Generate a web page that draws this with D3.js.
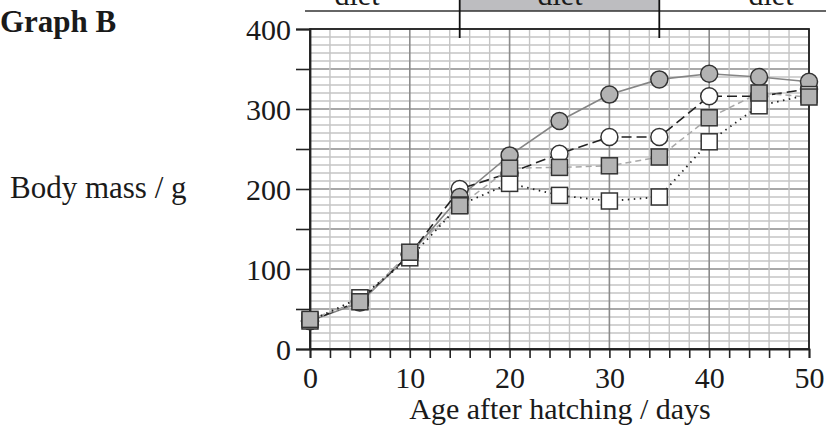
<!DOCTYPE html>
<html>
<head>
<meta charset="utf-8">
<script src="https://cdn.jsdelivr.net/npm/d3@7"></script>
<style>
  body { margin: 0; background: #fff; }
  text { font-family: "Liberation Serif", "Times New Roman", serif; fill: #1a1a1a; }
</style>
</head>
<body>
<div id="chart"></div>
<script>
// Data
var days = [0, 5, 10, 15, 20, 25, 30, 35, 40, 45, 50];
var greyCircles = [35, 58, 118, 190, 242, 285, 318, 337, 344, 340, 334];
var whiteCircles = [35, 60, 118, 200, 220, 244, 265, 265, 316, 316, 325];
var greySquares = [37, 59, 121, 179, 226, 227, 229, 240, 289, 320, 315];
var whiteSquares = [35, 64, 114, 180, 207, 192, 185, 190, 259, 304, 318];
var xTicks = [0, 10, 20, 30, 40, 50];
var yTicks = [0, 100, 200, 300, 400];
var dietLabels = ["diet", "diet", "diet"];

var svgWidth = 826;
var svgHeight = 428;
var fontSize = 30;

var svg = d3.select("#chart")
  .append("svg")
  .attr("width", svgWidth)
  .attr("height", svgHeight);

var xScale = d3.scaleLinear().domain([0, 50]).range([310, 809]);
var yScale = d3.scaleLinear().domain([0, 400]).range([349, 29]);

// grid - minor lines every 10 g / 2 days, darker every 50 g / 10 days
var grid = svg.append("g");
d3.range(0, 401, 10).forEach(function(v) {
  grid.append("line")
    .attr("x1", xScale(0)).attr("x2", xScale(50))
    .attr("y1", yScale(v)).attr("y2", yScale(v))
    .attr("stroke", v % 50 === 0 ? "#8c8c8c" : "#c4c4c4")
    .attr("stroke-width", v % 50 === 0 ? 1.6 : 1.4);
});
d3.range(0, 51, 2).forEach(function(d) {
  grid.append("line")
    .attr("x1", xScale(d)).attr("x2", xScale(d))
    .attr("y1", yScale(0)).attr("y2", yScale(400))
    .attr("stroke", d % 10 === 0 ? "#8c8c8c" : "#c4c4c4")
    .attr("stroke-width", d % 10 === 0 ? 1.6 : 1.4);
});

// frame
svg.append("rect")
  .attr("x", xScale(0)).attr("y", yScale(400))
  .attr("width", xScale(50) - xScale(0))
  .attr("height", yScale(0) - yScale(400))
  .attr("fill", "none")
  .attr("stroke", "#222")
  .attr("stroke-width", 1.8);

// axes
var leftAxis = d3.axisLeft(yScale)
  .tickValues(d3.range(0, 401, 50))
  .tickSize(14)
  .tickFormat(function(v) { return yTicks.indexOf(v) >= 0 ? v : ""; })
  .tickPadding(5);
var bottomAxis = d3.axisBottom(xScale)
  .tickValues(d3.range(0, 51, 2))
  .tickSize(9)
  .tickFormat(function(d) { return xTicks.indexOf(d) >= 0 ? d : ""; })
  .tickPadding(9);

var gy = svg.append("g").attr("transform", "translate(" + xScale(0) + ",0)").call(leftAxis);
var gx = svg.append("g").attr("transform", "translate(0," + yScale(0) + ")").call(bottomAxis);
[gy, gx].forEach(function(g) {
  g.select(".domain").attr("stroke", "#222").attr("stroke-width", 1.8);
  g.selectAll(".tick line").attr("stroke", "#222").attr("stroke-width", 1.6);
  g.selectAll("text")
    .attr("font-family", "Liberation Serif, Times New Roman, serif")
    .attr("font-size", fontSize)
    .attr("fill", "#1a1a1a");
});
gy.selectAll("text").attr("dy", "0.34em");

// diet bar at the top (labels cut off by the top edge, as in the source)
var topGroup = svg.append("g");
topGroup.append("rect")
  .attr("x", xScale(15)).attr("y", 0)
  .attr("width", xScale(35) - xScale(15)).attr("height", 11)
  .attr("fill", "#bdbdc0");
topGroup.append("line")
  .attr("x1", 305).attr("x2", svgWidth)
  .attr("y1", 11).attr("y2", 11)
  .attr("stroke", "#333").attr("stroke-width", 1.6);
[15, 35].forEach(function(d) {
  topGroup.append("line")
    .attr("x1", xScale(d)).attr("x2", xScale(d))
    .attr("y1", 0).attr("y2", 38)
    .attr("stroke", "#111").attr("stroke-width", 1.8);
});
var dietX = [357, 560, 771];
topGroup.selectAll("text.diet").data(dietLabels).enter().append("text")
  .attr("class", "diet")
  .attr("x", function(d, i) { return dietX[i]; })
  .attr("y", 5)
  .attr("text-anchor", "middle")
  .attr("font-size", fontSize)
  .text(function(d) { return d; });

// lines
var series = [
  { values: greyCircles, stroke: "#858585", dash: null, width: 1.6 },
  { values: whiteCircles, stroke: "#222", dash: "10,5", width: 1.6 },
  { values: greySquares, stroke: "#a8a8a8", dash: "6,4", width: 1.5 },
  { values: whiteSquares, stroke: "#222", dash: "1.5,4.5", width: 1.8 }
];
var line = d3.line()
  .x(function(d, i) { return xScale(days[i]); })
  .y(function(d) { return yScale(d); });

series.forEach(function(s) {
  svg.append("path")
    .datum(s.values)
    .attr("d", line)
    .attr("fill", "none")
    .attr("stroke", s.stroke)
    .attr("stroke-width", s.width)
    .attr("stroke-dasharray", s.dash);
});

// markers
function drawCircles(values, fill) {
  svg.append("g").selectAll("circle").data(values).enter().append("circle")
    .attr("cx", function(d, i) { return xScale(days[i]); })
    .attr("cy", function(d) { return yScale(d); })
    .attr("r", 8.5)
    .attr("fill", fill)
    .attr("stroke", "#333")
    .attr("stroke-width", 1.5);
}
function drawSquares(values, fill) {
  svg.append("g").selectAll("rect").data(values).enter().append("rect")
    .attr("x", function(d, i) { return xScale(days[i]) - 8; })
    .attr("y", function(d) { return yScale(d) - 8; })
    .attr("width", 16)
    .attr("height", 16)
    .attr("fill", fill)
    .attr("stroke", "#333")
    .attr("stroke-width", 1.5);
}
drawCircles(whiteCircles, "#fff");
drawCircles(greyCircles, "#b3b3b3");
drawSquares(whiteSquares, "#fff");
drawSquares(greySquares, "#b3b3b3");

// titles
svg.append("text")
  .attr("x", 0).attr("y", 32)
  .attr("font-size", 31)
  .attr("font-weight", "bold")
  .text("Graph B");

svg.append("text")
  .attr("x", 10).attr("y", 198)
  .attr("font-size", 31)
  .text("Body mass / g");

svg.append("text")
  .attr("x", 560).attr("y", 419)
  .attr("text-anchor", "middle")
  .attr("font-size", fontSize)
  .text("Age after hatching / days");
</script>
</body>
</html>
